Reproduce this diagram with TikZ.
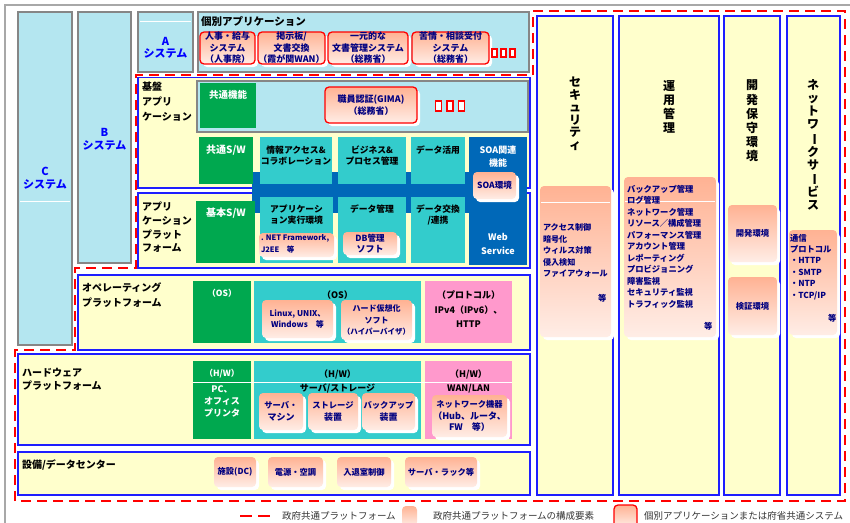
\documentclass[tikz,border=0pt]{standalone}
\usepackage{fontspec}
\setmainfont{Noto Sans CJK JP}
\usepackage{graphicx}
\usetikzlibrary{shadows}
\definecolor{sysblue}{HTML}{B4E6F0}
\definecolor{lyellow}{HTML}{FFFFCC}
\definecolor{dgreen}{HTML}{00A84F}
\definecolor{tealc}{HTML}{33CCCC}
\definecolor{soablue}{HTML}{0068B8}
\definecolor{pinkT}{HTML}{FFB293}
\definecolor{pinkB}{HTML}{FFEDE6}
\definecolor{hotpink}{HTML}{FF99CC}
\definecolor{navyc}{HTML}{000080}
\definecolor{gborder}{HTML}{868686}
\definecolor{framegray}{HTML}{A8A8A8}
\definecolor{lblue}{HTML}{1E1EFF}
\definecolor{systext}{HTML}{0000FF}
\definecolor{redc}{HTML}{FF0000}
\newcommand\fsz[2]{\fontsize{#1}{#2}\selectfont}
\newcommand\mkbox[7]{\node[#2, minimum width={(#5)-(#3)}, minimum height={(#6)-(#4)}] (#1) at ({((#3)+(#5))/2},{((#4)+(#6))/2}) {#7};}
\begin{document}
\begin{tikzpicture}[x=1pt,y=-1pt,
  every node/.style={inner sep=0pt,outer sep=0pt},
  sysbox/.style={fill=sysblue,draw=gborder,line width=2pt},
  layerbox/.style={fill=lyellow,draw=lblue,line width=1.5pt},
  greenbox/.style={fill=dgreen},
  tealbox/.style={fill=tealc},
  hotbox/.style={fill=hotpink},
  soabox/.style={fill=soablue},
  pinkbox/.style={top color=pinkT,bottom color=pinkB,rounded corners=4pt,
     drop shadow={fill=white,opacity=1,shadow xshift=3pt,shadow yshift=-3pt},
     align=center,text=navyc,font=\fsz{9}{11.5}\bfseries},
  redbox/.style={pinkbox,draw=redc,line width=1.3pt},
  smallsq/.style={draw=redc,line width=1.3pt,fill=white,minimum width=5pt,minimum height=8pt},
  gpf/.style={draw=redc,line width=2.5pt,dash pattern=on 10pt off 6pt},
  systxt/.style={align=center,text=systext,font=\fsz{11}{12.5}\bfseries},
  lbl/.style={align=left,anchor=north west,font=\fsz{10}{14}\bfseries},
  wtxt/.style={align=center,text=white,font=\fsz{9.5}{13}\bfseries},
  btxt/.style={align=center,text=black,font=\fsz{8.8}{11.5}\bfseries},
  vtxt/.style={align=center,anchor=north,font=\fsz{12}{13}\bfseries},
  lst/.style={align=left,anchor=north west,text=navyc,font=\fsz{8.3}{11.5}\bfseries},
  legtxt/.style={anchor=west,text=black!80,font=\fsz{9.5}{11}},
  sepline/.style={draw=white,line width=0.8pt}
]
\useasboundingbox (0,0) rectangle (850,522);
\fill[white] (0,0) rectangle (850,522);
\draw[framegray,line width=1.5pt] (5,5) rectangle (880,560);

% ---- systems ----
\mkbox{sysC}{sysbox}{18}{12}{72}{345}{}
\draw[sepline] (20,201) -- (70,201);
\node[systxt] (sysCt) at (45,178) {C\\システム};
\mkbox{sysB}{sysbox}{78}{12}{131}{263}{}
\node[systxt] (sysBt) at (104.5,139.5) {B\\システム};
\mkbox{sysA}{sysbox}{138}{12}{193}{71.5}{}
\draw[sepline] (140,21) -- (191,21);
\node[systxt] (sysAt) at (165.5,48) {A\\システム};

% ---- individual applications ----
\mkbox{kobetsu}{sysbox}{198}{12}{529}{71.5}{}
\node[anchor=west,font=\fsz{10.5}{12}\bfseries] (kobetsut) at (201,21) {個別アプリケーション};
\mkbox{jinji}{redbox}{200}{32}{255}{64}{人事・給与\\システム\\（人事院）}
\mkbox{keiji}{redbox}{258}{32}{325}{64}{掲示板/\\文書交換\\（霞が関WAN）}
\mkbox{ichigen}{redbox}{328}{32}{408}{64}{一元的な\\文書管理システム\\（総務省）}
\mkbox{kujo}{redbox}{412}{32}{489}{64}{苦情・相談受付\\システム\\（総務省）}
\node[smallsq] (qa1) at (494.5,53) {};
\node[smallsq] (qa2) at (503.5,53) {};
\node[smallsq] (qa3) at (512.5,53) {};

% ---- government common platform outline ----
\draw[gpf] (533,11) -- (845,11) -- (845,501) -- (15,501) -- (15,350) -- (75,350)
  -- (75,268) -- (136,268) -- (136,75) -- (533,75) -- cycle;

% ---- layers ----
\mkbox{kiban}{layerbox}{138}{77.5}{530}{188}{}
\mkbox{apppf}{layerbox}{138}{193}{530}{268}{}
\mkbox{ospf}{layerbox}{78}{275}{530}{350}{}
\mkbox{hwpf}{layerbox}{18}{354}{530}{445}{}
\mkbox{facpf}{layerbox}{18}{452}{530}{495}{}
\node[lbl,font=\fsz{10}{15}\bfseries] (kibanlab) at (142,82) {基盤\\アプリ\\ケーション};
\node[lbl,font=\fsz{10}{13.7}\bfseries] (apppflab) at (142,202) {アプリ\\ケーション\\プラット\\フォーム};
\node[lbl,font=\fsz{10}{15}\bfseries] (ospflab) at (82,283) {オペレーティング\\プラットフォーム};
\node[lbl,font=\fsz{10}{13}\bfseries] (hwpflab) at (22,368) {ハードウェア\\プラットフォーム};
\node[lbl] (facpflab) at (22,460) {設備/データセンター};

% ---- common functions row ----
\mkbox{kyotsu}{sysbox}{197}{80.5}{528}{132}{}
\mkbox{kyotsuG}{greenbox}{200}{83}{256}{128}{}
\node[wtxt] (kyotsuGt) at (228,95) {共通機能};
\mkbox{shokuin}{redbox}{325}{87}{417}{123}{職員認証(GIMA)\\（総務省）}
\node[smallsq,minimum width=6pt,minimum height=10pt] (qb1) at (438.5,106) {};
\node[smallsq,minimum width=6pt,minimum height=10pt] (qb2) at (450,106) {};
\node[smallsq,minimum width=6pt,minimum height=10pt] (qb3) at (461.5,106) {};

% ---- SOA band ----
\mkbox{band}{soabox}{252}{172}{469}{213}{}

% ---- common S/W row ----
\mkbox{kswG}{greenbox}{199}{137}{253}{184}{}
\node[wtxt,font=\fsz{10}{13}\bfseries] (kswGt) at (226,150) {共通S/W};
\mkbox{joho}{tealbox}{260}{137}{332}{184}{}
\node[btxt] (johot) at (296,155.5) {情報アクセス\&\\コラボレーション};
\mkbox{biz}{tealbox}{338}{137}{406}{184}{}
\node[btxt] (bizt) at (372,155.5) {ビジネス\&\\プロセス管理};
\mkbox{katsuyo}{tealbox}{411}{137}{465}{184}{}
\node[btxt] (katsuyot) at (438,150) {データ活用};
\mkbox{soa}{soabox}{469}{137}{527}{265}{}
\node[wtxt,font=\fsz{9}{13}\bfseries] (soat) at (498,156.5) {SOA関連\\機能};
\node[wtxt,font=\fsz{9}{14}\bfseries] (webt) at (498,244) {Web\\Service};
\mkbox{soaenv}{pinkbox}{473}{172}{516}{199}{\fsz{8.5}{11}\bfseries SOA環境}

% ---- application platform row ----
\mkbox{kihonG}{greenbox}{196}{201}{255}{263}{}
\node[wtxt,font=\fsz{10}{13}\bfseries] (kihonGt) at (226,213) {基本S/W};
\mkbox{jikko}{tealbox}{260}{197}{333}{263}{}
\node[btxt] (jikkot) at (296.5,214.5) {アプリケーシ\\ョン実行環境};
\mkbox{dotnet}{pinkbox}{259}{233}{334}{257}{}
\node[anchor=north west,align=left,text=navyc,font=\fsz{7.5}{12}\bfseries] (dotnett) at (261,235) {. NET Framework,\\J2EE　等};
\mkbox{datakanri}{tealbox}{338}{197}{406}{263}{}
\node[btxt] (datakanrit) at (372,209) {データ管理};
\mkbox{dbsoft}{pinkbox}{343}{232}{397}{255}{\fsz{8.5}{11.5}\bfseries DB管理\\ソフト}
\mkbox{kokan}{tealbox}{411}{197}{465}{263}{}
\node[btxt] (kokant) at (438,215) {データ交換\\/連携};

% ---- OS row ----
\mkbox{osG}{greenbox}{193}{281}{251}{343}{}
\node[wtxt,font=\fsz{8.5}{12}\bfseries] (osGt) at (222,293) {（OS）};
\mkbox{osT}{tealbox}{254}{281}{421}{343}{}
\node[btxt,font=\fsz{9}{12}\bfseries] (osTt) at (337.5,295) {（OS）};
\mkbox{linux}{pinkbox}{262}{300}{333}{338}{\fsz{8}{12}\bfseries Linux, UNIX、\\\fsz{8}{12}\bfseries Windows　等}
\mkbox{hyper}{pinkbox}{341}{300}{412}{340}{\fsz{8}{11.5}\bfseries ハード仮想化\\\fsz{8}{11.5}\bfseries ソフト\\\fsz{7.5}{11.5}\bfseries （ハイパーバイザ）}
\mkbox{proto}{hotbox}{425}{281}{512}{343}{}
\node[btxt,font=\fsz{9}{14.5}\bfseries] (protot) at (468.5,309.5) {（プロトコル）\\IPv4（IPv6）、\\HTTP};

% ---- HW row ----
\mkbox{hwG}{greenbox}{193}{361}{251}{439}{}
\mkbox{hwT}{tealbox}{254}{361}{421}{439}{}
\mkbox{hwP}{hotbox}{425}{361}{512}{439}{}
\draw[sepline] (193,382) -- (512,382);
\node[wtxt,font=\fsz{8.5}{12}\bfseries] (hwGt) at (222,374) {（H/W）};
\node[wtxt,font=\fsz{9}{12}\bfseries] (pct) at (222,401) {PC、\\オフィス\\プリンタ};
\node[btxt,font=\fsz{9}{12}\bfseries] (hwTt) at (337.5,374) {（H/W）};
\node[btxt,font=\fsz{9}{12}\bfseries] (servt) at (337.5,388.5) {サーバ/ストレージ};
\node[btxt,font=\fsz{9}{12}\bfseries] (hwPt) at (468.5,374) {（H/W）};
\node[btxt,font=\fsz{9}{12}\bfseries] (want) at (468.5,389) {WAN/LAN};
\mkbox{server}{pinkbox}{259}{393}{303}{430}{\fsz{8.3}{12}\bfseries サーバ・\\マシン}
\mkbox{storage}{pinkbox}{308}{393}{358}{430}{\fsz{8.3}{12}\bfseries ストレージ\\装置}
\mkbox{backup}{pinkbox}{362}{393}{415}{430}{\fsz{8.3}{12}\bfseries バックアップ\\装置}
\mkbox{netkiki}{pinkbox}{432}{395}{507}{437}{\fsz{8.3}{12}\bfseries ネットワーク機器\\（Hub、ルータ、\\FW　等）}

% ---- facility row ----
\mkbox{shisetsu}{pinkbox}{214}{457}{256}{487}{\fsz{8.3}{12}\bfseries 施設(DC)}
\mkbox{dengen}{pinkbox}{268}{457}{323}{487}{\fsz{8.3}{12}\bfseries 電源・空調}
\mkbox{nyutai}{pinkbox}{337}{457}{391}{487}{\fsz{8.3}{12}\bfseries 入退室制御}
\mkbox{rack}{pinkbox}{405}{457}{477}{487}{\fsz{8.3}{12}\bfseries サーバ・ラック等}

% ---- right columns ----
\mkbox{colsec}{layerbox}{537}{16}{613}{495}{}
\mkbox{colunyo}{layerbox}{619}{16}{719}{495}{}
\mkbox{colkai}{layerbox}{724}{16}{780}{495}{}
\mkbox{colnet}{layerbox}{787}{16}{840}{495}{}
\node[vtxt,font=\fsz{12}{12.5}\bfseries] (secv) at (575,77) {セ\\キ\\ュ\\リ\\テ\\ィ};
\node[vtxt,font=\fsz{12}{13.7}\bfseries] (unyov) at (669,81) {運\\用\\管\\理};
\node[vtxt,font=\fsz{12}{14.2}\bfseries] (kaiv) at (752,80) {開\\発\\保\\守\\環\\境};
\node[vtxt,font=\fsz{12}{13}\bfseries] (netv) at (813,80) {ネ\\ッ\\ト\\ワ\\\rotatebox[origin=c]{-90}{ー}\\ク\\サ\\\rotatebox[origin=c]{-90}{ー}\\ビ\\ス};

\mkbox{secP}{pinkbox}{540}{186}{611}{337}{}
\draw[sepline] (541,202) -- (610,202);
\node[lst,font=\fsz{8.1}{11.5}\bfseries] (secl) at (543,224) {アクセス制御\\暗号化\\ウィルス対策\\侵入検知\\ファイアウォール};
\node[lst] (sece) at (598,294) {等};

\mkbox{unyoP}{pinkbox}{624}{177}{716}{337}{}
\draw[sepline] (625,201) -- (715,201);
\node[lst] (unyol) at (627,185) {バックアップ管理\\ログ管理\\ネットワーク管理\\リソース／構成管理\\パフォーマンス管理\\アカウント管理\\レポーティング\\プロビジョニング\\障害監視\\セキュリティ監視\\トラフィック監視};
\node[lst] (unyoe) at (704,322) {等};

\mkbox{kaiP}{pinkbox}{728}{205}{777}{262}{\fsz{8.3}{12}\bfseries 開発環境}
\mkbox{kenP}{pinkbox}{728}{277}{777}{335}{\fsz{8.3}{12}\bfseries 検証環境}

\mkbox{netP}{pinkbox}{789}{230}{837}{335}{}
\node[lst,font=\fsz{8.3}{11.4}\bfseries] (netl) at (790,234) {通信\\プロトコル\\・HTTP\\・SMTP\\・NTP\\・TCP/IP};
\node[lst] (nete) at (828,314) {等};

% ---- legend ----
\coordinate (lg1) at (240,516);
\coordinate (lg2) at (270,516);
\draw[gpf,dash pattern=on 12pt off 6pt] (lg1) -- (lg2);
\node[legtxt] (leg1) at (282,516) {政府共通プラットフォーム};
\mkbox{legsq1}{pinkbox}{402}{506}{417}{526}{}
\node[legtxt] (leg2) at (433,516) {政府共通プラットフォームの構成要素};
\mkbox{legsq2}{redbox}{614}{505}{637}{527}{}
\node[legtxt] (leg3) at (644,516) {個別アプリケーションまたは府省共通システム};
\end{tikzpicture}
\end{document}
